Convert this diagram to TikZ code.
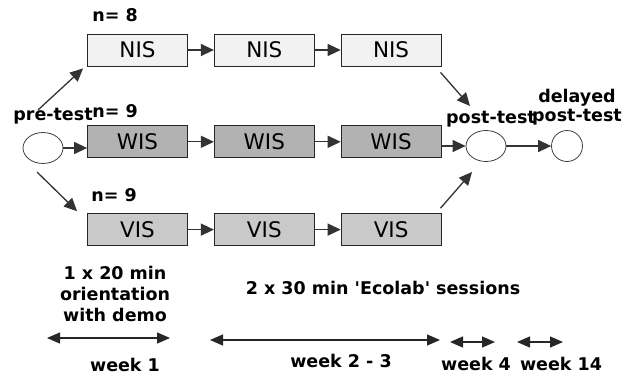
\documentclass[tikz,border=0pt]{standalone}
\usepackage{fontspec}
\setmainfont{DejaVu Sans}
\usetikzlibrary{arrows.meta}
\usetikzlibrary{shapes.geometric}
\usetikzlibrary{positioning}

\begin{document}
\begin{tikzpicture}[
        x=1pt, y=-1pt,
        node distance=26pt,
        %
        group node/.style={
            rectangle,
            draw=black!85,
            line width=0.8pt,
            minimum width=100pt,
            minimum height=32pt,
            inner sep=0pt,
            font=\fontsize{21.5}{24}\selectfont,
        },
        %
        test node/.style={
            ellipse,
            draw=black!75,
            line width=0.8pt,
            minimum width=40pt,
            minimum height=31pt,
            inner sep=0pt,
        },
        %
        label node/.style={
            font=\bfseries\fontsize{17.5}{21}\selectfont,
            align=center,
            inner sep=0pt,
        },
        normal edge/.style={-{Triangle[length=13pt,width=12pt]}, line width=1.3pt, black!80},
        span edge/.style={{Triangle[length=13pt,width=11pt]}-{Triangle[length=13pt,width=11pt]}, line width=1.3pt, black!85}
        ]
        \useasboundingbox (0,0) rectangle (628,383);

        % Vertices

        \node[test node] (pre) at (43,148) {};
        \node[group node, fill=black!5] (NIS1) at (137.5,50) {NIS};
        \node[group node, fill=black!5, right=of NIS1] (NIS2) {NIS};
        \node[group node, fill=black!5, right=of NIS2] (NIS3) {NIS};
        \node[group node, fill=black!30, below=59pt of NIS1] (WIS1) {WIS};
        \node[group node, fill=black!30, right=of WIS1] (WIS2) {WIS};
        \node[group node, fill=black!30, right=of WIS2] (WIS3) {WIS};
        \node[group node, fill=black!21, below=55pt of WIS1] (VIS1) {VIS};
        \node[group node, fill=black!21, right=of VIS1] (VIS2) {VIS};
        \node[group node, fill=black!21, right=of VIS2] (VIS3) {VIS};
        \node[test node] (post) at (486,146) {};
        \node[test node, minimum width=31pt] (delayed) at (567,146) {};

        % Labels

        \node[label node] (n NIS) at (115,15) {n= 8};
        \node[label node] (n WIS) at (115,111) {n= 9};
        \node[label node] (n VIS) at (114,195) {n= 9};
        \node[label node] (pre label) at (53,116) {pre-test};
        \node[label node] (post label) at (491,119) {post-test};
        \node[label node] (delayed label) at (577,107.5) {delayed\\[-2pt]post-test};
        \node[label node] (orient) at (115,294) {1 x 20 min\\orientation\\with demo};
        \node[label node] (sessions) at (383,288) {2 x 30 min \textquotesingle Ecolab\textquotesingle\ sessions};
        \node[label node] (week1) at (125,364.5) {week 1};
        \node[label node] (week23) at (341,361) {week 2 - 3};
        \node[label node] (week4) at (476,363.5) {week 4};
        \node[label node] (week14) at (561,363.5) {week 14};

        % Free ends

        \coordinate (pre up) at (38,110);
        \coordinate (pre down) at (37,172);
        \coordinate (post up) at (470,106);
        \coordinate (post down) at (472,172);
        \coordinate (w1 a) at (47,338);
        \coordinate (w1 b) at (170,338);
        \coordinate (w23 a) at (210,340);
        \coordinate (w23 b) at (440,340);
        \coordinate (w4 a) at (450,342);
        \coordinate (w4 b) at (495,342);
        \coordinate (w14 a) at (517,342);
        \coordinate (w14 b) at (563,342);

        % Edges

        \draw[normal edge] (pre up) -- ([shift={(-4,2)}]NIS1.south west);
        \draw[normal edge] (pre) -- (pre -| WIS1.west);
        \draw[normal edge] (pre down) -- ([shift={(-10,-2)}]VIS1.north west);
        %
        \draw[normal edge] (NIS1) -- (NIS2);
        \draw[normal edge] (NIS2) -- (NIS3);
        \draw[normal edge] (WIS1) -- (WIS2);
        \draw[normal edge] (WIS2) -- (WIS3);
        \draw[normal edge] (VIS1) -- (VIS2);
        \draw[normal edge] (VIS2) -- (VIS3);
        %
        \draw[normal edge] ([shift={(-1,6)}]NIS3.south east) -- (post up);
        \draw[normal edge] (WIS3.east |- post.west) -- (post.west);
        \draw[normal edge] ([shift={(-1,-5)}]VIS3.north east) -- (post down);
        \draw[normal edge] (post) -- (delayed);
        %
        \draw[span edge] (w1 a) -- (w1 b);
        \draw[span edge] (w23 a) -- (w23 b);
        \draw[span edge] (w4 a) -- (w4 b);
        \draw[span edge] (w14 a) -- (w14 b);
\end{tikzpicture}
\end{document}
